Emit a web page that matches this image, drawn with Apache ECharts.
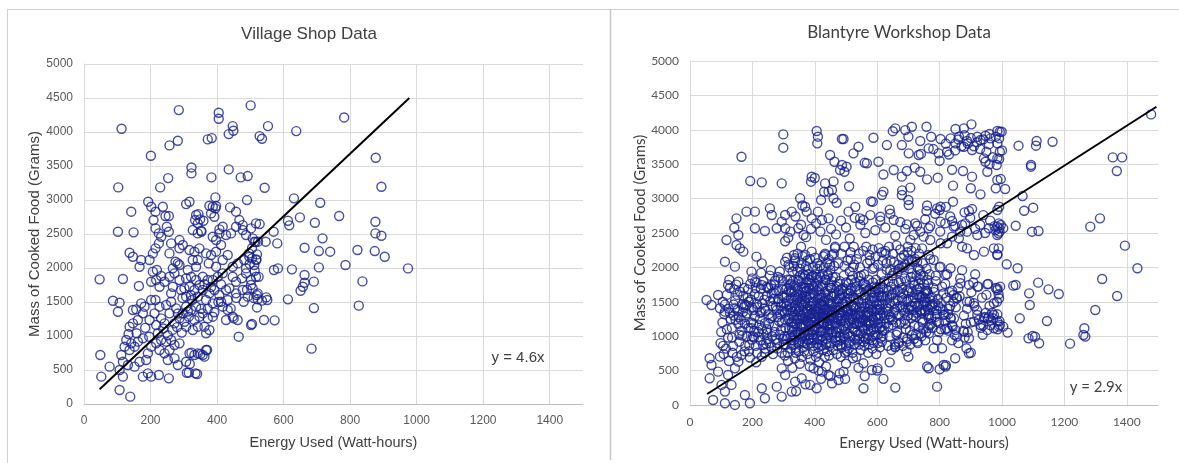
<!DOCTYPE html>
<html>
<head>
<meta charset="utf-8">
<script src="https://cdn.jsdelivr.net/npm/echarts@6/dist/echarts.min.js"></script>
<style>
html,body{margin:0;padding:0;background:#fff}
#chart{width:1179px;height:463px}
</style>
</head>
<body>
<div id="chart"></div>
<script>
// ---- Village Shop: energy used (Wh) vs mass of cooked food (g) ----
const villageTitle = 'Village Shop Data';
const villageSlope = 4.6;
const villageFitRange = [47, 978];
const villagePoints = [
[285,4322],[113,4048],[405,4283],[405,4195],[501,4391],[447,4087],[435,3969],[449,4018],[257,3803],[282,3871],[372,3891],[384,3910],[201,3651],[323,3479],[323,3391],[435,3450],[253,3322],[383,3332],[471,3332],[492,3352],[103,3185],[229,3185],
[193,2975],[202,2901],[237,2901],[215,2828],[245,2764],[255,2764],[209,2705],[249,2607],[142,2828],[307,2940],[317,2974],[377,2916],[395,3038],[387,2901],[397,2911],[439,2891],[457,2828],[490,2999],
[337,2779],[344,2793],[334,2705],[342,2656],[349,2715],[359,2695],[327,2558],[352,2548],[342,2509],[353,2533],[395,2877],[382,2803],[392,2754],[467,2705],[477,2631],[457,2607],[417,2607],[407,2568],
[102,2533],[149,2524],[215,2582],[225,2509],[232,2460],[255,2533],[287,2411],[262,2362],[297,2338],[287,2289],[387,2460],[397,2411],[407,2509],[427,2485],[442,2509],[412,2338],[477,2558],[487,2485],[502,2582],[517,2656],[512,2387],[507,2436],
[137,2225],[147,2166],[172,2117],[167,2019],[207,2215],[215,2289],[225,2362],[197,2117],[257,2215],[275,2093],[287,2044],[267,1995],
[317,2264],[332,2240],[347,2289],[327,2117],[342,2117],[312,1970],[337,2019],[367,2215],[382,2191],[397,2240],[375,2068],[397,2019],[417,2117],[432,2191],[447,2019],[462,2068],[482,2117],[497,2166],[487,1994],[512,2044],
[47,1833],[117,1838],[165,1735],[207,1946],[219,1970],[232,1882],[217,1823],[202,1798],[227,1725],[242,1798],[257,1872],[272,1921],[282,2068],[287,1823],[267,1725],[262,1627],[292,1676],
[307,1848],[322,1872],[337,1823],[317,1725],[332,1676],[347,1750],[307,1578],[325,1529],[342,1578],
[357,1872],[372,1823],[387,1823],[402,1872],[417,1921],[357,1676],[377,1627],[392,1676],[407,1602],[427,1676],[367,1529],[387,1480],[412,1504],[432,1529],
[447,1872],[457,1798],[475,1848],[487,1921],[502,1823],[517,1872],[457,1627],[477,1676],[492,1578],[507,1700],[522,1627],
[87,1519],[107,1490],[102,1357],[147,1382],[157,1392],[172,1480],[182,1431],[177,1333],[162,1235],[147,1186],[137,1137],
[202,1529],[215,1529],[227,1431],[212,1333],[197,1235],[232,1259],[217,1161],
[247,1456],[262,1504],[277,1406],[257,1333],[242,1186],[272,1186],[287,1259],[297,1333],
[307,1431],[322,1382],[337,1431],[315,1284],[332,1235],[347,1284],[307,1137],[327,1088],[342,1137],
[357,1333],[372,1259],[387,1284],[362,1137],[377,1088],[367,1039],
[417,1431],[432,1382],[447,1284],[427,1235],[462,1235],[502,1161],[465,990],
[127,941],[142,892],[122,843],[152,843],[137,794],[162,917],[177,966],
[112,720],[49,720],[117,622],[107,500],[132,573],[152,549],[167,622],[187,647],[192,745],
[202,843],[217,892],[232,941],[247,917],[227,794],[242,745],[257,794],[272,867],[262,941],[287,892],[252,647],[272,671],
[317,745],[332,720],[342,745],[357,720],[367,794],[307,622],[282,573],
[77,549],[52,402],[107,206],[139,108],[117,402],[177,402],[192,451],[202,402],[225,426],[255,377],[309,460],[335,451],
[480,1504],[458,1560],[441,1406],[450,1259],[505,1176],[519,1602],[535,1520],[520,1420],[510,1560],
[515,2380],[505,2290],[520,2200],[498,2060],[513,1960],[525,1870],[502,1750],[490,1680],[522,1540],
[496,2215],[505,2141],[518,2117],[350,735],[362,696],[370,794],[323,755],[318,588],[340,441],[315,461],
[222,1040],[238,1110],[252,1010],[266,1090],[280,1130],[294,1050],[302,1210],[312,1360],[352,1400],[372,1400],[392,1350],[404,1500],[282,1330],[296,1560],[184,1120],[196,990],[158,1040],[134,1030],[302,1700],[322,1600],[362,1760],[382,1720],[412,1760],[437,1700],
[553,4087],[528,3940],[535,3901],[638,4013],[782,4214],[877,3621],[894,3195],[543,3180],[631,3024],[710,2960],[528,2646],[613,2695],[617,2627],[649,2744],[694,2666],[767,2764],[876,2680],[876,2509],[894,2475],[570,2534],[546,2387],[523,2387],[581,2362],[717,2436],[663,2298],[706,2249],[740,2240],[822,2264],[874,2249],[904,2166],[518,2127],[571,1970],[583,1994],[625,1980],[706,2009],[786,2044],[974,1994],[663,1897],[663,1784],[658,1725],[651,1666],[691,1799],[837,1803],[548,1568],[551,1529],[613,1539],[691,1411],[826,1446],[541,1235],[573,1230],[684,814]
];

// ---- Blantyre Workshop: energy used (Wh) vs mass of cooked food (g) ----
const blantyreTitle = 'Blantyre Workshop Data';
const blantyreSlope = 2.9;
const blantyreFitRange = [55, 1495];
const blantyreOutliers = [
[1478,4224],[1355,3599],[1385,3599],[1368,3401],[1314,2713],[1283,2592],[1394,2316],[1434,1987],[1321,1832],[1369,1585],[1299,1381],[1264,1115],[1261,1018],[1267,994],[1218,892],[1182,1614],[1149,1681],[1116,1778],[1087,1623],[1089,1454],[1144,1221],[1057,1260],[1085,969],[1098,1003],[1106,993],[1119,897],[1018,1052],[1004,1139],[1050,1987],[1015,2045],[1044,1744],[1036,1735],[994,1720],[989,1609],[991,1551],[985,1672],[1044,2606],[1096,2519],[1117,2529],[1071,2824],[1100,2868],[1066,3037],[1010,3139],[996,3284],[1093,3488],[1093,3464],[1053,3769],[1111,3837],[1109,3769],[1162,3827],[993,3972],[999,3972],[991,3875],[993,3682],[991,3575],[985,2592],[991,2568],[996,2616],[1004,2568],[989,2495],[989,2277],[985,2190],[991,2882],[980,3149],[985,1318],[993,1163]
];
const blantyreUpper = [
[658,4021],[690,3996],[711,4045],[758,4045],[851,4011],[878,4021],[902,4079],[985,3982],[947,3914],[963,3875],[738,3837],[773,3899],[803,3866],[835,3875],[862,3899],[888,3837],[921,3899],[931,3851],[958,3788],[985,3803],
[588,3885],[492,3866],[524,3658],[540,3754],[631,3778],[679,3778],[701,3658],[733,3633],[765,3730],[797,3658],[824,3682],[851,3803],[878,3754],[904,3706],[942,3585],[947,3536],[985,3585],[983,3488],
[502,3464],[495,3391],[567,3512],[604,3536],[653,3415],[695,3401],[738,3391],[679,3319],[706,3159],[679,3052],[620,3101],[615,3052],[794,3304],[843,3188],[875,3401],[904,3319],[931,3062],[953,3391],[985,3270],
[586,2955],[701,2907],[758,2819],[803,2882],[843,2955],[894,2819],[904,2848],[985,2834],[508,2810],[545,2713],[556,2689],[610,2737],[653,2689],[695,2626],[728,2606],[765,2568],[803,2665],[840,2674],[845,2592],[872,2616],[888,2519],[921,2471],[958,2568],[979,2543],[985,2471],
[872,2301],[888,2277],[910,2180],[942,2229],[974,2277],[985,2180],[792,2858],[800,2834],[840,2447],[862,2422],[824,2350],[749,2447],[770,2398],[803,2350],[717,2471],[744,2277],[765,2180],
[299,3933],[299,3740],[406,3982],[410,3900],[408,3803],[487,3866],[165,3609],[193,3255],[230,3236],[294,3221],[390,3318],[388,3246],[449,3633],[463,3536],[481,3415],[487,3488],[433,3221],[455,3125],[444,3101],[460,3004],
[353,3004],[369,2882],[374,2810],[390,2713],[410,2810],[423,2689],[444,2713],[181,2810],[208,2810],[256,2858],[262,2761],[305,2761],[326,2810],[294,2665],[305,2568],[347,2568],[315,2432],[364,2471],
[149,2713],[142,2577],[155,2471],[117,2398],[149,2326],[160,2277],[171,2229],[208,2568],[240,2529],[278,2568],[213,2156],[230,2059],[112,2083],[144,2011],[197,1938],[305,2083],[337,2132],[369,2180],[390,2229],[433,2180],[465,2301],
[305,2380],[322,2520],[338,2740],[356,2620],[372,2440],[388,2560],[404,2640],[418,2520],[436,2400],[452,2560],[468,2480],[484,2680],[500,2580],[512,2420],[528,2720],[546,2620],[562,2500],[578,2760],[594,2540],[610,2680],[626,2580],[642,2780],[658,2460],[674,2660],[690,2560],[706,2400],[722,2640],[738,2520],[754,2700],[770,2600],[786,2780],[802,2520],[818,2640],[834,2740],[850,2600],[866,2520],[882,2640],[898,2720],[914,2560],[930,2620],[946,2500],[962,2680],[976,2600],[992,2520],
[360,2900],[420,2980],[470,2940],[530,2880],[580,2960],[640,2840],[700,2980],[760,2900],[820,2880],[880,2800],[940,2760],[990,2640],
[400,3300],[430,3100],[460,3250],[510,3180],[560,3520],[620,3350],[680,3120],[720,3450],[760,3280],[800,3550],[840,3420],[900,3150],[960,3500],[1000,3700],
[650,3980],[700,3900],[740,3650],[780,3720],[820,3800],[860,3860],[880,3920],[900,3880],[920,3820],[940,3860],[960,3940],[980,3900],[870,3760],[890,3800],[910,3760],[930,3720],[950,3680],[970,3600],[850,3700],[830,3640]
];
const blantyreCore = [
[160,1650],[172,1420],[185,1560],[178,1280],[195,1120],[205,980],[190,870],[215,760],[225,1340],[232,1480],[240,1190],[248,1050],[255,900],[262,1620],[270,1750],[278,1380],[285,1220],[292,1090],[298,960],[210,1700],[220,1580],[235,1800],[250,1710],[268,1540],[282,1860],[296,1690],[165,1080],[182,1000],[198,1420],[208,1290],[222,1160],[236,1030],[244,890],[258,1260],[272,1150],[288,1320],[300,1480],[158,920],[175,780],[192,690],[212,620],[230,700],[246,1580],[264,1000],[280,820],[294,760],[200,1840],[228,1920],[256,1880],[276,1660],[188,1500],[204,1380],[218,1060],[238,1400],[252,1320],[266,1440],[284,1500],[298,1580],[170,1350],[214,1470],[226,940],[242,820],[260,1740],[274,960],[290,1840],[196,1200],[206,1080],[186,1680],[176,1180],[166,1460],[152,1380],[145,1520],[140,1300],[130,1250],[124,1400],[118,1100],[135,980],[128,1700],[148,1750],[155,1180],[110,1320],[105,1500],[100,1060],[98,900],[115,820],[138,860],[150,700],[125,640],[108,740],
[305,1240],[310,1380],[315,1520],[318,1100],[322,980],[326,1660],[330,1800],[334,1300],[338,1440],[342,1180],[346,1050],[350,920],[354,1580],[358,1720],[362,1900],[366,1340],[370,1480],[374,1220],[378,1080],[382,960],[386,1620],[390,1760],[394,2000],[398,1400],[402,1260],[406,1120],[410,1540],[414,1680],[418,1860],[422,1320],[426,1460],[430,1180],[434,1040],[438,900],[442,1600],[446,1740],[450,1960],
[308,1680],[312,1820],[316,2040],[320,1460],[324,1200],[328,1060],[332,880],[336,1580],[340,1720],[344,1940],[348,1360],[352,1500],[356,1140],[360,1000],[364,840],[368,1640],[372,1780],[376,2100],[380,1300],[384,1440],[388,1160],[392,1020],[396,860],[400,1580],[404,1760],[408,1980],[412,1400],[416,1220],[420,1080],[424,940],[428,800],[432,1640],[436,1820],[440,2060],[444,1380],[448,1240],
[303,1000],[307,880],[313,760],[319,1300],[323,1560],[327,1420],[331,1140],[335,1000],[339,760],[343,1520],[347,1660],[351,1260],[355,1120],[359,980],[363,1440],[367,1580],[371,1700],[375,1360],[379,1200],[383,1820],[387,1260],[391,1340],[395,1500],[399,1100],[403,1440],[407,960],[411,840],[415,1480],[419,1600],[423,1200],[427,1340],[431,1520],[435,1300],[439,1160],[443,1020],[447,1480],[449,1100],
[302,1560],[309,1440],[317,1660],[321,1820],[329,1940],[337,2100],[345,2200],[353,1980],[361,2160],[369,1880],[377,1960],[385,2120],[393,1880],[401,2140],[409,1720],[417,2020],[425,1900],[433,2200],[441,1900],[311,2140],[333,2020],[357,2060],[381,1700],[405,1860],[429,2000],[445,2120],
[304,720],[314,640],[324,820],[336,680],[348,780],[358,700],[368,900],[376,740],[386,660],[396,780],[404,700],[414,620],[422,860],[432,700],[440,780],[448,860],[328,540],[352,600],[384,560],[412,500],[436,560],
[452,1300],[456,1440],[460,1580],[464,1200],[468,1060],[472,920],[476,1660],[480,1800],[484,1340],[488,1480],[492,1140],[496,1000],[500,860],[504,1620],[508,1760],[512,1940],[516,1380],[520,1240],[524,1100],[528,960],[532,1540],[536,1680],[540,1860],[544,1420],[548,1280],[552,1140],[556,1000],[560,1600],[564,1740],[568,2060],[572,1360],[576,1220],[580,1080],[584,940],[588,1500],[592,1640],[596,1820],[600,1400],[604,1260],[608,1120],[612,980],[616,1560],[620,1700],
[454,1700],[458,1860],[462,2020],[466,1360],[470,1500],[474,1260],[478,1120],[482,980],[486,840],[490,1700],[494,1560],[498,1420],[502,1280],[506,1040],[510,900],[514,1560],[518,1700],[522,1880],[526,2040],[530,1320],[534,1180],[538,1020],[542,880],[546,1620],[550,1480],[554,1760],[558,1900],[562,1300],[566,1160],[570,1020],[574,880],[578,1460],[582,1640],[586,1780],[590,2000],[594,1280],[598,1120],[602,900],[606,1580],[610,1720],[614,1900],[618,2100],
[455,2180],[465,2280],[475,2060],[485,2200],[495,2300],[505,2100],[515,2220],[525,2300],[535,2120],[545,2000],[555,2240],[565,2300],[575,2180],[585,2260],[595,2160],[605,2280],[615,2220],[459,800],[471,740],[483,700],[497,760],[509,820],[521,760],[533,700],[547,800],[559,860],[571,760],[585,820],[597,740],[609,840],[457,1160],[479,1420],[501,1500],[523,1420],[543,1200],[567,1480],[589,1360],[611,1400],
[624,1260],[628,1420],[632,1580],[636,1140],[640,1000],[644,1720],[648,1880],[652,1340],[656,1480],[660,1200],[664,1060],[668,920],[672,1640],[676,1800],[680,2000],[684,1380],[688,1240],[692,1100],[696,960],[700,1540],[704,1700],[708,1860],[712,1440],[716,1300],[720,1160],[724,1020],[728,1600],[732,1760],[736,1960],[740,1380],[744,1240],[748,1100],[752,1500],[756,1660],[760,1820],[764,1300],[768,1160],[772,1420],[776,1560],[780,1700],
[626,2240],[638,2300],[650,2200],[662,2320],[674,2260],[686,2180],[698,2300],[710,2240],[722,2120],[734,2200],[746,2060],[758,1980],[770,2120],[630,2060],[642,1960],[654,2080],[666,1940],[678,2140],[690,2040],[702,1980],[714,2080],[726,1880],[738,1820],[750,1760],[762,1620],[774,1260],[634,860],[646,800],[658,840],[670,900],[682,860],[694,780],[706,880],[718,960],[730,900],[742,1000],[754,940],[766,1040],[778,1120],[622,1080],[638,1320],[650,1620],[666,1520],[680,1700],[698,1400],[712,1640],[726,1340],[742,1560],[758,1440],
[785,1480],[792,1320],[798,1200],[804,1100],[812,1620],[818,1760],[824,1900],[830,1400],[836,1260],[842,1140],[848,1020],[854,1560],[860,1700],[866,1840],[872,1960],[878,1300],[884,1180],[890,1060],[896,1500],[902,1640],[908,1780],[914,1900],[920,1380],[926,1240],[932,1120],[938,1020],[944,1280],[950,1600],[956,1760],[962,1160],[968,1340],[974,1480],[980,1700],[986,1100],[992,1220],[788,1880],[800,2000],[816,1320],[828,1080],[840,1660],[852,1420],[864,1580],[876,1080],[888,1400],[900,1200],[912,1440],[924,1720],[936,1560],[948,1340],[960,1440],[972,1260],[984,1500],[940,1160],[955,1260],[965,1230],
[867,1769],[894,1745],[921,1720],[953,1754],[985,1696],[856,1551],[888,1502],[845,1599],[910,1478],[921,1308],[942,1260],[958,1284],[974,1308],[985,1212],[910,1212],[931,1163],[953,1091],[974,1115],[990,1139],
[733,1599],[754,1551],[770,1454],[803,1405],[738,1357],[765,1260],[792,1212],[813,1309],[835,1260],[824,1115],[851,1091],[856,994],[878,1066],[894,970],[792,945],[781,824],[808,824],[894,751],[886,824],[658,848],[695,921],[711,1018],[728,921],[728,2083],[781,2108],[803,2011],[835,1987],[819,1890],
[53,1526],[69,1454],[90,1599],[122,1744],[155,1793],[96,1406],[112,1357],[144,1406],[176,1454],[208,1793],[230,1745],[251,1696]
];
// second pass over the dense middle of the cloud
const blantyreCoreDense = [
[104,1200],[112,1460],[118,1600],[122,980],[128,1340],[134,1120],[140,1460],[146,1240],[152,1600],[158,1020],[126,1820],[142,1680],[106,860],[136,760],[156,1280],
[163,1240],[168,1010],[171,1590],[177,860],[183,1330],[187,1120],[193,1760],[199,950],[181,1450],[174,1700],[196,1530],[189,780],
[203,1180],[207,1610],[211,860],[216,1420],[219,990],[224,1250],[227,1690],[231,1100],[234,870],[238,1530],[202,1000],[213,1780],[229,1350],[239,760],
[242,1370],[245,1720],[249,960],[253,1180],[257,1510],[261,840],[264,1290],[268,1630],[271,1060],[275,1430],[279,900],[247,1100],[259,1960],[273,1810],[266,740],
[281,1280],[284,1660],[287,1020],[291,1430],[294,1200],[297,1800],[300,880],[303,1340],[306,1120],[310,1600],[313,1000],[316,1250],[319,1740],[283,1540],[296,1370],[309,960],[318,2000],[288,1940],
[321,1380],[324,1640],[327,1210],[331,980],[334,1520],[337,1360],[341,1070],[344,1240],[347,1820],[351,1420],[354,1040],[357,1300],[360,1640],[325,900],[339,830],[352,1880],[358,1180],[322,1760],[346,1560],[333,2180],[356,2300],
[362,1260],[365,1060],[368,1500],[371,1160],[374,1660],[377,1400],[380,1020],[383,1560],[386,1320],[389,1860],[392,1480],[395,1200],[398,960],[363,1840],[369,1010],[381,1900],[394,1680],[399,1290],[372,2020],[388,900],[366,780],[384,1100],
[401,1360],[404,1140],[407,1660],[410,1000],[413,1280],[416,1560],[419,1380],[422,1720],[425,1080],[428,1500],[431,1240],[434,1820],[437,1400],[440,1060],[403,1900],[415,940],[424,1560],[432,1380],[438,1260],[408,2060],[427,2160],[411,760],[435,880],
[442,1320],[445,1520],[448,1180],[451,1700],[454,1040],[457,1380],[460,1260],[463,1620],[466,1860],[469,1120],[472,1420],[475,1540],[478,1000],[443,1880],[455,1580],[467,980],[476,1760],[449,2040],[461,2200],[473,860],[446,720],[479,1300],
[481,1560],[484,1220],[487,1620],[490,1360],[493,1880],[496,1240],[499,1100],[502,1680],[505,1400],[508,1180],[511,1540],[514,1000],[517,1820],[483,940],[495,2020],[507,1320],[519,1460],[487,1100],[503,780],[515,2120],
[521,1320],[524,1560],[527,1180],[530,1780],[533,1420],[536,1060],[539,1300],[542,1640],[545,1200],[548,1880],[551,1360],[554,1520],[557,1100],[523,2000],[535,940],[547,1040],[558,1680],[541,2200],[529,1080],
[561,1420],[564,1220],[567,1660],[570,1300],[573,1820],[576,1520],[579,1160],[582,1380],[585,1980],[588,1240],[591,1560],[594,1020],[597,1700],[563,960],[577,2100],[589,900],[599,1460],[571,1100],
[601,1300],[604,1680],[607,1460],[610,1200],[613,1580],[616,1080],[619,1340],[622,1800],[625,1520],[628,1180],[631,1960],[634,1400],[637,1660],[603,2040],[615,920],[627,2200],[639,1240],[611,1760],
[641,1480],[644,1280],[647,1600],[650,1160],[653,1760],[656,1380],[659,1520],[662,1020],[665,1660],[668,1300],[671,1980],[674,1440],[677,1200],[643,2100],[657,880],[669,1780],[679,1560],
[681,1420],[684,1620],[687,1340],[690,1180],[693,1800],[696,1500],[699,1300],[702,1640],[705,1080],[708,1440],[711,2100],[714,1560],[717,1380],[683,980],[697,2220],[709,1260],[719,1740],
[721,1480],[724,1280],[727,1680],[730,1420],[733,1140],[736,1560],[739,1900],[742,1340],[745,1200],[748,1460],[751,1620],[754,1360],[757,1060],[723,2280],[741,1040],[759,1500],
[762,1400],[766,1320],[770,1560],[774,1180],[778,1460],[782,1640],[786,1280],[790,1380],[794,1540],[798,1060],[768,1900],[788,1800],[796,1440],[764,1120],
[804,1480],[810,1380],[816,1220],[822,1560],[828,1320],[834,1440],[840,1160],[846,1260],[808,1720],[832,1640],[844,1500],[818,1100]
];
// third pass: the darkest part of the cloud
const blantyreCoreDarkest = [
[326,1130],[333,1270],[341,1400],[349,1020],[356,1480],[364,1160],[371,1320],[379,940],[386,1440],[394,1090],[401,1210],[409,1350],[416,1060],[424,1280],[431,1420],[439,1340],[446,1100],[453,1480],[461,1340],[468,1180],[476,1380],[483,1260],[491,1470],[498,1190],[506,1350],[513,1240],[521,1120],[528,1400],[536,1260],[543,1340],[551,1200],[558,1420],[566,1340],[573,1180],[581,1290],[588,1100],[596,1380],[603,1180],[611,1300],[618,1460],
[329,1360],[337,1180],[344,1600],[352,1320],[359,1540],[367,1250],[374,1560],[382,1180],[389,1380],[397,1620],[404,1320],[412,1180],[419,1460],[427,1200],[434,1560],[442,1180],[449,1360],[457,1060],[464,1420],[472,1280],[479,1600],[487,1300],[494,1040],[502,1380],[509,1620],[517,1260],[524,1440],[532,1180],[539,1520],[547,1360],[554,1240],[562,1560],[569,1200],[577,1420],[584,1560],[592,1200],[599,1560],[607,1380],[614,1140],
[332,940],[347,900],[362,920],[377,880],[392,940],[407,900],[422,1000],[437,960],[452,900],[467,940],[482,880],[497,960],[512,920],[527,880],[542,960],[557,920],[572,960],[587,1000],[602,1020],[617,1000],
[335,1740],[350,1800],[365,1700],[380,1780],[395,1720],[410,1820],[425,1740],[440,1660],[455,1800],[470,1720],[485,1680],[500,1780],[515,1660],[530,1720],[545,1800],[560,1760],[575,1680],[590,1720],[605,1640],[620,1580],
[632,1360],[640,1560],[648,1240],[656,1680],[664,1420],[672,1180],[680,1520],[688,1840],[696,1660],[704,1380],[712,1920],[720,1560],[728,1440],[736,1700],[744,1580],[752,1380],[760,1660],[636,1800],[652,1920],[668,2040],[684,2000],[700,2120],[716,1780],[732,1980],[748,1880],[764,1760]
];
const blantyreLower = [
[63,679],[69,582],[96,703],[90,485],[101,292],[133,292],[112,195],[63,388],[122,437],[144,533],[155,630],[165,727],
[74,73],[112,25],[144,1],[192,25],[240,98],[294,122],[326,195],[385,292],[406,243],[455,316],[476,364],[396,533],
[176,146],[230,243],[278,267],[337,340],[305,437],[358,388],[294,533],[423,485],[444,437],
[765,534],[792,267],[658,253],[556,243],[601,533],[583,509],[556,606],[522,679],[497,379],[492,485],[819,558],[813,582],
[500,600],[540,540],[600,500],[640,620],[700,700],[560,420],[620,380],[480,460],[450,420],[420,380],[370,300],[340,200],[760,560],[800,520],[820,580],[850,680],[900,760],[880,980],[860,900],[840,940]
];

const xTicksMax = 1500;   // axis runs to 1500, labelled every 200 up to 1400
const yTicksMax = 5000;

const markerColor = '#17228f';
const gridColor = '#d9d9d9';

const leftFont = "'Liberation Sans', Arial, sans-serif";
const rightFont = "Lato, 'Open Sans', sans-serif";

function axisPair(gridIndex, font, tickSize, xNameSize, yNameSize, xGap, yGap) {
  const plain = v => String(v);
  return {
    x: {
      gridIndex, type: 'value', min: 0, max: xTicksMax, interval: 200,
      name: 'Energy Used (Watt-hours)', nameLocation: 'middle', nameGap: xGap,
      nameTextStyle: { fontFamily: font, fontSize: xNameSize, color: '#404040' },
      axisLine: { show: true, lineStyle: { color: '#bfbfbf', width: 1 } },
      axisTick: { show: false },
      axisLabel: { fontFamily: font, fontSize: tickSize, color: '#595959', margin: 11, showMaxLabel: false, formatter: plain },
      splitLine: { show: true, showMaxLine: false, lineStyle: { color: gridColor, width: 1 } }
    },
    y: {
      gridIndex, type: 'value', min: 0, max: yTicksMax, interval: 500,
      name: 'Mass of Cooked Food (Grams)', nameLocation: 'middle', nameGap: yGap,
      nameTextStyle: { fontFamily: font, fontSize: yNameSize, color: '#404040' },
      axisLine: { show: true, lineStyle: { color: gridColor, width: 1 } },
      axisTick: { show: false },
      axisLabel: { fontFamily: font, fontSize: tickSize, color: '#595959', margin: 11, formatter: plain },
      splitLine: { show: true, lineStyle: { color: gridColor, width: 1 } }
    }
  };
}

const leftAxes = axisPair(0, leftFont, 12, 14.5, 15, 31, 42);
const rightAxes = axisPair(1, rightFont, 12, 15, 15, 31, 41);

function scatter(name, xi, data) {
  return {
    name, type: 'scatter', xAxisIndex: xi, yAxisIndex: xi, data,
    symbol: 'circle', symbolSize: 9, large: false,
    itemStyle: { color: 'rgba(0,0,0,0)', borderColor: markerColor, borderWidth: 1.4 },
    emphasis: { disabled: true }, silent: true, animation: false, z: 3
  };
}

function trend(xi, slope, range) {
  return {
    type: 'line', xAxisIndex: xi, yAxisIndex: xi,
    data: [[range[0], slope * range[0]], [range[1], slope * range[1]]],
    symbol: 'none', lineStyle: { color: '#000', width: 2 },
    silent: true, animation: false, z: 4
  };
}

const chart = echarts.init(document.getElementById('chart'), null, { renderer: 'canvas' });
chart.setOption({
  backgroundColor: '#fff',
  animation: false,
  grid: [
    { left: 84, top: 64, width: 499, height: 340 },
    { left: 690, top: 61, width: 468, height: 344 }
  ],
  xAxis: [leftAxes.x, rightAxes.x],
  yAxis: [leftAxes.y, rightAxes.y],
  series: [
    scatter('Village Shop', 0, villagePoints),
    trend(0, villageSlope, villageFitRange),
    scatter('Blantyre Workshop', 1, blantyreCore.concat(blantyreCoreDense, blantyreCoreDarkest, blantyreUpper, blantyreLower, blantyreOutliers)),
    trend(1, blantyreSlope, blantyreFitRange)
  ],
  graphic: [
    // panel frames
    { type: 'line', shape: { x1: 7, y1: 9.5, x2: 1179, y2: 9.5 }, style: { stroke: '#d0d0d0', lineWidth: 1 }, silent: true },
    { type: 'line', shape: { x1: 7.5, y1: 9, x2: 7.5, y2: 463 }, style: { stroke: '#d0d0d0', lineWidth: 1 }, silent: true },
    { type: 'line', shape: { x1: 610.5, y1: 9, x2: 610.5, y2: 460 }, style: { stroke: '#c8c8c8', lineWidth: 1.5 }, silent: true },
    // titles
    { type: 'text', x: 309, y: 34, silent: true,
      style: { text: villageTitle, fontFamily: leftFont, fontSize: 17, fill: '#404040', textAlign: 'center', textVerticalAlign: 'middle' } },
    { type: 'text', x: 899, y: 33, silent: true,
      style: { text: blantyreTitle, fontFamily: rightFont, fontSize: 17, fill: '#404040', textAlign: 'center', textVerticalAlign: 'middle' } },
    // trendline equations
    { type: 'text', x: 518, y: 358, silent: true, z: 10,
      style: { text: 'y = ' + villageSlope + 'x', fontFamily: leftFont, fontSize: 15, fill: '#404040', textAlign: 'center', textVerticalAlign: 'middle' } },
    { type: 'text', x: 1096, y: 387, silent: true, z: 10,
      style: { text: 'y = ' + blantyreSlope + 'x', fontFamily: rightFont, fontSize: 15, fill: '#404040', textAlign: 'center', textVerticalAlign: 'middle' } }
  ]
});
</script>
</body>
</html>
